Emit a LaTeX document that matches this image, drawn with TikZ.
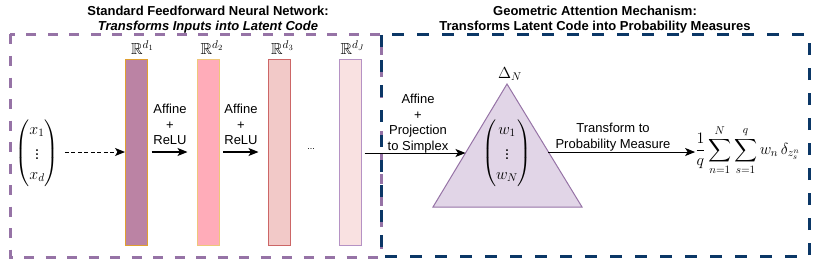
\documentclass[tikz,border=0pt]{standalone}
\usepackage{fix-cm}
\usepackage{amsmath,amssymb}
\usepackage{fontspec}
\setmainfont{Liberation Sans}
\usetikzlibrary{arrows.meta,calc}
\definecolor{boxpurple}{HTML}{9673A6}
\definecolor{boxblue}{HTML}{0B3766}
\definecolor{bAfill}{HTML}{BB83A4}
\definecolor{bAline}{HTML}{E0A030}
\definecolor{bBfill}{HTML}{FFACB9}
\definecolor{bBline}{HTML}{EEC77A}
\definecolor{bCfill}{HTML}{F2C9C8}
\definecolor{bCline}{HTML}{CC6666}
\definecolor{bDfill}{HTML}{F9E1E1}
\definecolor{bDline}{HTML}{B592C4}
\definecolor{trifill}{HTML}{E1D5E7}
\begin{document}
\begin{tikzpicture}[x=1pt,y=-1pt,
  lbl/.style={font=\fontsize{13}{15.5}\selectfont, align=center, inner sep=0pt},
  ttl/.style={font=\fontsize{13}{15}\selectfont\bfseries, align=center, inner sep=0pt},
  mth/.style={font=\fontsize{16}{19}\selectfont, inner sep=0pt},
  bar/.style={draw, line width=1pt, minimum width=22pt, minimum height=186pt, inner sep=0pt},
  arr/.style={-{Stealth[length=10pt,width=8pt,inset=2.5pt]}, line width=1.2pt},
  frame/.style={line width=3pt}]
\useasboundingbox (0,0) rectangle (818,262);
% frames
\draw[frame, boxpurple, dash pattern=on 10pt off 11.5pt] (10,34.5) rectangle (381,257);
\draw[frame, boxblue, dash pattern=on 12pt off 13pt] (381,35) rectangle (809,256);
% titles
\node[ttl] (t1) at (208,19.5) {Standard Feedforward Neural Network:\\\itshape Transforms Inputs into Latent Code};
\node[ttl] (t2) at (595,19.5) {Geometric Attention Mechanism:\\Transforms Latent Code into Probability Measures};
% bars
\node[bar, draw=bAline, fill=bAfill] (b1) at (136.5,152) {};
\node[bar, draw=bBline, fill=bBfill] (b2) at (208,152) {};
\node[bar, draw=bCline, fill=bCfill] (b3) at (279,152) {};
\node[bar, draw=bDline, fill=bDfill] (b4) at (350,152) {};
\node[mth, anchor=base] (r1) at ($(b1.north)+(6,-4)$) {$\mathbb{R}^{d_1}$};
\node[mth, anchor=base] (r2) at ($(b2.north)+(4,-4)$) {$\mathbb{R}^{d_2}$};
\node[mth, anchor=base] (r3) at ($(b3.north)+(3.5,-4)$) {$\mathbb{R}^{d_3}$};
\node[mth, anchor=base] (r4) at ($(b4.north)+(2.5,-4)$) {$\mathbb{R}^{d_J}$};
% input
\node[mth] (x) at (37,153) {$\begin{pmatrix} x_1\\[3pt] \vdots\\[1pt] x_d\end{pmatrix}$};
\draw[arr, dash pattern=on 4pt off 2.5pt, line width=1pt] (x.east) ++(6,-1) coordinate (xs) -- (b1.west);
% arrows between bars
\draw[arr, shorten <=3.5pt, shorten >=9pt] (b1.east) -- (b2.west);
\draw[arr, shorten <=3.5pt, shorten >=9pt] (b2.east) -- (b3.west);
\node[lbl] (l1) at (170,124.5) {Affine\\+\\ReLU};
\node[lbl] (l2) at (241,124.5) {Affine\\+\\ReLU};
\node[lbl, font=\fontsize{9}{10}\selectfont] (dots) at (311,149) {...};
% triangle
\coordinate (apex) at (507,84);
\coordinate (bl) at (433,207);
\coordinate (br) at (582,207);
\draw[boxpurple, fill=trifill, line width=1pt] (apex) -- (bl) -- (br) -- cycle;
\node[mth] (delta) at (510,74) {$\Delta_N$};
\node[mth] (w) at (507,153) {$\begin{pmatrix} w_1\\[3pt] \vdots\\[1pt] w_N\end{pmatrix}$};
\coordinate (triL) at ($(apex)!0.561!(bl)$);
\coordinate (triR) at ($(apex)!0.553!(br)$);
\draw[arr, line width=1pt] (b4.east |- triL) ++(3,0) coordinate (b4s) -- (triL);
\node[lbl] (l3) at (418,123.5) {Affine\\+\\Projection\\to Simplex};
% output
\node[mth] (f) at (747.5,150) {$\displaystyle \frac{1}{q}\sum_{n=1}^{N}\sum_{s=1}^{q} w_n\,\delta_{z_s^n}$};
\draw[arr, line width=1pt] (triR) -- (f.west |- triR);
\node[lbl] (l4) at (613,137) {Transform to\\Probability Measure};
\end{tikzpicture}
\end{document}
